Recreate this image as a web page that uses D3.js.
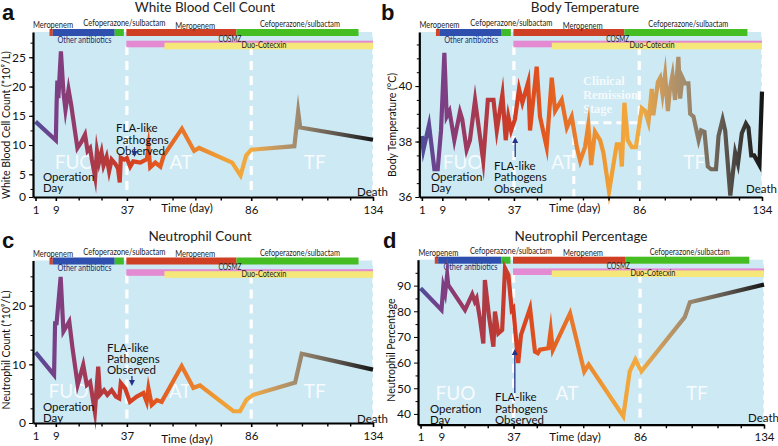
<!DOCTYPE html>
<html><head><meta charset="utf-8">
<script src="https://cdn.jsdelivr.net/npm/d3@7"></script>
<style>body{margin:0;background:#fff}svg{display:block}</style>
</head><body>
<svg id="chart" width="778" height="446"></svg>
<script>
// ---------------- DATA ----------------
const dayTicks = [1, 9, 37, 86, 134];
const minorDayTicks = [18, 27, 46, 55, 64, 74, 96, 106, 116, 125];

const wbcData = [[1,14],[9,10.8],[9.3,17],[9.6,21],[10,18],[11,26],[12,19],[12.8,16],[14,19.5],[15,17],[17.5,9.5],[19,10.5],[20.5,11.8],[21.5,9],[22.5,9.5],[23.2,7.5],[24.5,4.5],[25.2,9],[26,7],[27,8.8],[27.8,6.5],[29,8],[30,5.5],[31,7.5],[32.4,6.8],[33.5,6],[34.2,3.6],[34.6,7.8],[36,7.5],[37,7.8],[38.3,6.3],[39.5,7.2],[42.3,7],[44.9,7.6],[45.5,9.6],[46.2,6.2],[48.2,7],[50.2,6.3],[51.5,8.2],[58.7,12.8],[63.5,9],[65.5,9.5],[78.5,7],[81.8,4.8],[84,8.2],[86,9.2],[103,9.8],[104.5,15.7],[105.3,13],[134,10.9]];

const tempData = [[1,38.2],[1.6,37.7],[3.8,38.6],[5.9,37.0],[7.2,37.0],[8.5,38.4],[9.8,41.2],[10.7,38.9],[11.8,39.1],[13.7,38.05],[15.9,39.07],[16.8,38.8],[18.5,37.7],[19.8,38.05],[21.8,39.5],[25,37.3],[26.8,39.5],[29,39.5],[30.3,38.4],[32.5,39.7],[33.8,38.05],[34.8,38.9],[35.9,38.4],[37.4,38.8],[39,39.9],[40.3,39.4],[42.6,40.15],[43.3,38.4],[45.9,40.7],[47.2,38.9],[49.8,37.8],[51.8,40.3],[53.1,39.1],[55.7,39.5],[57.7,38.5],[59.6,38.9],[61.6,37.8],[62.9,37.3],[64.8,37.8],[66.1,38.6],[67.2,37.15],[68.7,38.35],[70.7,38.05],[72,37.6],[74.2,36.2],[77.2,37.9],[78.5,37.9],[79.2,37.1],[80.2,39.4],[81.5,38.05],[83.1,37.8],[84.7,37.8],[87,39.2],[88.3,39.1],[89.6,38.7],[90.9,39.9],[91.5,38.95],[93.3,40.15],[94.2,40.3],[95.1,39.7],[96.1,40.4],[97.2,39.1],[98,39.9],[99,40.4],[100,39.5],[101.3,41.05],[102,39.55],[102.9,40.3],[103.9,40.1],[105.2,40.1],[105.9,39.0],[107.2,38.9],[109.2,38.05],[110.2,38.4],[111.5,38.35],[112.8,37.1],[114.1,37.0],[116,37.0],[117,38.2],[118.6,38.8],[119.6,38.4],[121.6,36.05],[123.5,37.6],[124.6,37.2],[126.1,38.3],[127.7,38.65],[128.7,38.5],[129.8,37.5],[130.9,37.5],[133,37.15],[134,39.8]];

const neuCountData = [[1,12.05],[8.3,8.2],[8.7,17],[9.3,17],[10.9,24.9],[12,15.6],[14.3,17.3],[15.5,13],[17.6,6.5],[19.8,9.9],[21.2,6.5],[22.5,7.0],[24.4,1.9],[25.7,9.6],[26.4,4.8],[28,5.6],[29.3,4.8],[31,5.6],[32.7,4.5],[34,4.2],[34.6,6.8],[36.3,5.9],[38.2,3.6],[40.9,4.5],[43.5,5.1],[44.8,3.6],[45.5,5.9],[46.8,3.1],[48.8,3.9],[50.7,3.6],[58.6,9.7],[63.2,6.0],[65.8,6.4],[79,2.0],[81.6,2.0],[84.2,4.0],[86.8,4.8],[103.3,6.9],[105.9,11.8],[134,9.1]];

const neuPctData = [[1,89.0],[9.1,80.5],[9.8,89.6],[10.5,87],[11.3,94.2],[11.7,90.3],[18.2,80.5],[21,86.6],[22,83.8],[22.7,85.1],[24,77],[25.3,67.5],[25.9,92.2],[27.5,78],[29.2,66.2],[29.8,79.9],[31.1,71.4],[32.6,72.7],[33.7,96.8],[35,94.2],[36.3,80.5],[36.9,81.2],[38.8,59.8],[39.9,70.8],[43.4,81.2],[45.3,64.3],[46.4,63.7],[47.2,65],[50.5,65.6],[51.4,72.7],[52.2,64.9],[58.9,79.2],[64.4,56.5],[66.1,59.2],[79.5,39.1],[82,56.6],[84.2,61.2],[86.5,56.6],[103.3,77.7],[105.3,83.5],[134,90.4]];

// drug bars
const drugNames  = ["Meropenem","Other antibiotics","Cefoperazone/sulbactam","Meropenem","Cefoperazone/sulbactam","COSMZ","Duo-Cotecxin"];
const drugStart  = [6.5, 7.8, 32.2, 36.8, 80.2, 36.8, 51.8];
const drugEnd    = [7.8, 32.2, 35.8, 80.2, 128.3, 134, 134];
const drugRow    = [0, 0, 0, 0, 0, 1, 2];
const drugColors = ["#d2452a","#2f4fae","#3fba2a","#cf3f24","#45be22","#e48ad2","#f5e77a"];
const drugLabelDay = [7.9, 20.3, 36, 63.9, 105.2, 77.6, 91];

const phaseNames = ["FUO", "AT", "TF"];
const remissionLines = ["Clinical", "Remission", "Stage"];

const gradDays   = [0, 9, 18, 28, 37, 48, 60, 75, 86, 95, 104, 120, 134];
const gradColors = ["#4a4f9c","#7a3f86","#9a3a62","#b53a3c","#d43c22","#e2561e","#e8782a","#f0a035","#f2aa40","#c8995e","#a08c70","#5c554e","#151515"];

// ---------------- LAYOUT ----------------
const drugLabelWidth = [40, 54, 82, 40, 80, 23, 45];
const panels = [
  {id:"a", title:"White Blood Cell Count", yLabel:"White Blood Cell Count (*10⁹/L)", data:wbcData,
   x0:33, x1:373, yTop:32, yBot:197, yDom:[1.12,29.32], yTicks:[0,5,10,15,20,25], yMinor:d3.range(2.5,29,2.5),
   letter:[2,20], titleX:205, titleY:12, yLabX:10, yLabY:125, arrowDay:40, arrowDir:"down", arrowY:[147,157],
   flaX:116, flaY:[132,144,155], opX:43, opY:[181,192], phaseY:169, phaseDays:[16.4,58.3,111], deathY:196, timeY:212},
  {id:"b", title:"Body Temperature", yLabel:"Body Temperature (°C)", data:tempData,
   x0:419.3, x1:762, yTop:32, yBot:197, yDom:[36,41.95], yTicks:[36,38,40], yMinor:d3.range(36.5,42,0.5),
   letter:[381,20], titleX:585, titleY:12, yLabX:396, yLabY:125, arrowDay:37.5, arrowDir:"up", arrowY:[137,157],
   flaX:494, flaY:[170,181,193], opX:431, opY:[181,192], phaseY:169, phaseDays:[17,56,107.5], deathY:193, timeY:212},
  {id:"c", title:"Neutrophil Count", yLabel:"Neutrophil Count  (*10⁹/L)", data:neuCountData,
   x0:33, x1:373, yTop:260.5, yBot:423, yDom:[0,27.7], yTicks:[0,10,20], yMinor:d3.range(2.5,27,2.5),
   letter:[2,248], titleX:200, titleY:241, yLabX:10, yLabY:350, arrowDay:39, arrowDir:"down", arrowY:[376,386],
   flaX:107, flaY:[352,363,374], opX:43, opY:[411,422], phaseY:398, phaseDays:[14,58,111], deathY:423, timeY:443},
  {id:"d", title:"Neutrophil Percentage", yLabel:"Neutrophil Percentage", data:neuPctData,
   x0:418, x1:764, yTop:259.7, yBot:424.7, yDom:[35.8,100.1], yTicks:[40,50,60,70,80,90], yMinor:d3.range(45,100,10),
   letter:[383,248], titleX:581, titleY:241, yLabX:395, yLabY:350, arrowDay:37.5, arrowDir:"up", arrowY:[349,393],
   flaX:495, flaY:[401,413,424], opX:430, opY:[413,424], phaseY:400, phaseDays:[14.5,57.7,108], deathY:422, timeY:441}
];

const FONT = "Lato, 'Open Sans', sans-serif";
const svg = d3.select("#chart");
const defs = svg.append("defs");

panels.forEach(p => {
  const x = d3.scaleLinear().domain([0, 134]).range([p.x0, p.x1]);
  const y = d3.scaleLinear().domain(p.yDom).range([p.yBot, p.yTop]).clamp(true);
  const g = svg.append("g");

  const gid = "grad" + p.id;
  const lg = defs.append("linearGradient").attr("id", gid).attr("gradientUnits", "userSpaceOnUse")
    .attr("x1", x(0)).attr("x2", x(134)).attr("y1", 0).attr("y2", 0);
  gradDays.forEach((d, k) => lg.append("stop").attr("offset", d / 134).attr("stop-color", gradColors[k]));

  g.append("rect").attr("x", x(0)).attr("y", p.yTop).attr("width", x(134) - x(0)).attr("height", p.yBot - p.yTop)
    .attr("fill", "#cde9f4");

  [37, 86].forEach(d => g.append("line").attr("x1", x(d)).attr("x2", x(d)).attr("y1", p.yTop + 14).attr("y2", p.yBot)
    .attr("stroke", "#fff").attr("stroke-width", 3.2).attr("stroke-dasharray", "9,6"));
  g.append("line").attr("x1", x(134)).attr("x2", x(134)).attr("y1", p.yTop).attr("y2", p.yBot)
    .attr("stroke", "#fff").attr("stroke-width", 1.5).attr("stroke-dasharray", "5,4");

  if (p.id === "b") {
    const cy = y(38.68);
    g.append("path").attr("d", `M${x(60.4)},${p.yBot}V${cy}H${x(86)}`).attr("fill", "none")
      .attr("stroke", "#fff").attr("stroke-width", 3).attr("stroke-dasharray", "8,5");
    remissionLines.forEach((t, k) => g.append("text").attr("x", x(64)).attr("y", 85 + k * 14)
      .attr("font-family", "'Liberation Serif', serif").attr("font-weight", "bold").attr("font-size", 12.5)
      .attr("fill", "#fff").attr("fill-opacity", 0.8).text(t));
  }

  const rowY = [[-3, 7], [8.7, 6.6], [10.7, 6.6]];
  const order = [5, 6, 0, 1, 2, 3, 4];
  order.forEach(k => {
    const r = rowY[drugRow[k]];
    g.append("rect").attr("x", x(drugStart[k])).attr("y", p.yTop + r[0]).attr("width", x(drugEnd[k]) - x(drugStart[k]))
      .attr("height", r[1]).attr("fill", drugColors[k]);
  });
  const labY = [p.yTop - 4, p.yTop + 10.5, p.yTop - 6, p.yTop - 3.5, p.yTop - 5, p.yTop + 9.5, p.yTop + 16];
  drugNames.forEach((n, k) => g.append("text").attr("x", x(drugLabelDay[k]) - drugLabelWidth[k] / 2).attr("y", labY[k])
    .attr("textLength", drugLabelWidth[k]).attr("lengthAdjust", "spacingAndGlyphs")
    .attr("font-family", FONT).attr("font-size", 8.6).attr("fill", k === 1 ? "#1d2b6a" : "#222").text(n));

  phaseNames.forEach((n, k) => g.append("text").attr("x", x(p.phaseDays[k])).attr("y", p.phaseY).attr("text-anchor", "middle")
    .attr("font-family", FONT).attr("font-size", 19).attr("fill", "#fff").attr("fill-opacity", 0.85).text(n));

  const line = d3.line().x(d => x(d[0])).y(d => y(d[1]));
  g.append("path").datum(p.data).attr("d", line).attr("fill", "none").attr("stroke", `url(#${gid})`)
    .attr("stroke-width", 4.2).attr("stroke-linejoin", "miter").attr("stroke-miterlimit", 10);

  g.append("text").attr("font-family", FONT).attr("font-size", 11.5).attr("fill", "#111")
    .selectAll("tspan").data(["Operation", "Day"]).join("tspan").attr("x", p.opX).attr("y", (d, k) => p.opY[k]).text(d => d);
  g.append("text").attr("font-family", FONT).attr("font-size", 11.5).attr("fill", "#111")
    .selectAll("tspan").data(["FLA-like", "Pathogens", "Observed"]).join("tspan").attr("x", p.flaX).attr("y", (d, k) => p.flaY[k]).text(d => d);
  const ax = x(p.arrowDay);
  const [ya, yb] = p.arrowY;
  const tipY = p.arrowDir === "down" ? yb : ya, tailY = p.arrowDir === "down" ? ya : yb;
  const s = p.arrowDir === "down" ? -1 : 1;
  g.append("line").attr("x1", ax).attr("x2", ax).attr("y1", tailY).attr("y2", tipY + s * 3).attr("stroke", "#22338a").attr("stroke-width", 1.3);
  g.append("path").attr("d", `M${ax},${tipY}L${ax - 3},${tipY + s * 6}L${ax + 3},${tipY + s * 6}Z`).attr("fill", "#22338a");
  g.append("text").attr("x", x(134) - 16).attr("y", p.deathY).attr("font-family", FONT).attr("font-size", 11.5).attr("fill", "#111").text("Death");

  const xa = g.append("g").attr("transform", `translate(0,${p.yBot})`)
    .call(d3.axisBottom(x).tickValues(dayTicks).tickSize(4).tickSizeOuter(0).tickFormat(d3.format("d")));
  xa.select(".domain").attr("stroke-width", 2.2);
  xa.selectAll("line").attr("stroke-width", 1.6);
  xa.selectAll("text").attr("font-family", FONT).attr("font-size", 11.5).attr("fill", "#111").attr("dy", "0.85em");
  const xm = g.append("g").attr("transform", `translate(0,${p.yBot})`)
    .call(d3.axisBottom(x).tickValues(minorDayTicks).tickSize(3.5).tickFormat(""));
  xm.select(".domain").remove();
  xm.selectAll("line").attr("stroke-width", 1.4);

  const yAx = g.append("g").attr("transform", `translate(${x(0)},0)`)
    .call(d3.axisLeft(y).tickValues(p.yTicks).tickSize(4).tickSizeOuter(0).tickFormat(d3.format("d")));
  yAx.select(".domain").attr("stroke-width", 2.2);
  yAx.selectAll("text").attr("font-family", FONT).attr("font-size", 12).attr("fill", "#111");
  const ym = g.append("g").attr("transform", `translate(${x(0)},0)`)
    .call(d3.axisLeft(y).tickValues(p.yMinor).tickSize(2.5).tickFormat(""));
  ym.select(".domain").remove();

  g.append("text").attr("x", (x(0) + x(134)) / 2 - 16).attr("y", p.timeY).attr("text-anchor", "middle")
    .attr("font-family", FONT).attr("font-size", 11.5).attr("fill", "#111").text("Time (day)");

  g.append("text").attr("transform", `translate(${p.yLabX},${p.yLabY}) rotate(-90)`).attr("text-anchor", "middle")
    .attr("font-family", FONT).attr("font-size", 10.5).attr("fill", "#111").text(p.yLabel);

  g.append("text").attr("x", p.titleX).attr("y", p.titleY).attr("text-anchor", "middle")
    .attr("font-family", FONT).attr("font-size", 13.5).attr("fill", "#222").text(p.title);
  g.append("text").attr("x", p.letter[0]).attr("y", p.letter[1]).attr("font-family", "'Liberation Sans', Arial, sans-serif")
    .attr("font-weight", "bold").attr("font-size", 22).attr("fill", "#111").text(p.id);
});
</script>
</body></html>
